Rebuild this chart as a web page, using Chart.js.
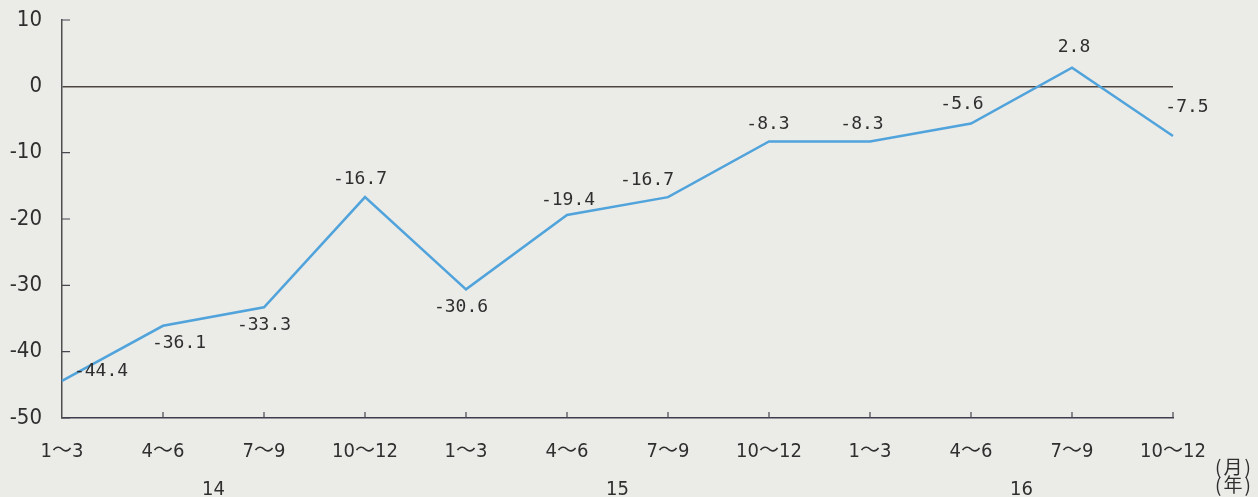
<html>
<head>
<meta charset="utf-8">
<style>
  body { margin: 0; background: #ebebe8; }
  canvas { display: block; }
</style>
</head>
<body>
<canvas id="myChart" width="1258" height="497"></canvas>

<script src="https://cdn.jsdelivr.net/npm/chart.js"></script>
<script>
// quarters per year, three years of data
var quarters = ["1～3", "4～6", "7～9", "10～12", "1～3", "4～6", "7～9", "10～12", "1～3", "4～6", "7～9", "10～12"];
var years = ["14", "15", "16"];
var values = [-44.4, -36.1, -33.3, -16.7, -30.6, -19.4, -16.7, -8.3, -8.3, -5.6, 2.8, -7.5];
var yTicks = [10, 0, -10, -20, -30, -40, -50];

var tickFont = "'Liberation Sans Narrow', 'DejaVu Sans Condensed', 'Noto Sans CJK JP', sans-serif";
var textColor = "#2f2f2f";

// where each value label sits relative to its point (dx, dy)
var labelOffsets = [[39, -10], [16, 18], [0, 18], [-5, -18], [-5, 18], [1, -15],
                    [-21, -17], [-1, -17], [-8, -17], [-9, -19], [2, -20], [14, -29]];

var paperMarks = {
    id: "paperMarks",
    beforeDraw: function (chart) {
        var ctx = chart.ctx;
        ctx.save();
        ctx.fillStyle = "#ebebe8";
        ctx.fillRect(0, 0, chart.width, chart.height);
        ctx.restore();
    },
    afterDatasetsDraw: function (chart) {
        var ctx = chart.ctx;
        var xs = chart.scales.x, ys = chart.scales.y;
        var area = chart.chartArea;
        ctx.save();

        // small inward ticks on both axes
        ctx.strokeStyle = "#4a4650";
        ctx.lineWidth = 1.2;
        ctx.beginPath();
        yTicks.forEach(function (v) {
            if (v === 0) return;
            var py = ys.getPixelForValue(v);
            ctx.moveTo(area.left, py);
            ctx.lineTo(area.left + 8, py);
        });
        for (var i = 1; i < quarters.length; i++) {
            var px = xs.getPixelForValue(i);
            ctx.moveTo(px, area.bottom);
            ctx.lineTo(px, area.bottom - 6);
        }
        ctx.stroke();

        // value labels
        var meta = chart.getDatasetMeta(0);
        ctx.fillStyle = textColor;
        ctx.font = "18px 'DejaVu Sans Mono', 'Liberation Mono', monospace";
        ctx.textAlign = "center";
        ctx.textBaseline = "middle";
        meta.data.forEach(function (pt, i) {
            var off = labelOffsets[i];
            ctx.fillText(values[i].toFixed(1), pt.x + off[0], pt.y + off[1]);
        });

        // year under the middle of each group of quarters
        ctx.font = "20px " + tickFont;
        years.forEach(function (y, g) {
            var a = xs.getPixelForValue(g * 4 + 1);
            var b = xs.getPixelForValue(g * 4 + 2);
            ctx.fillText(y, (a + b) / 2, 490);
        });

        // unit notes at the right end of the axis
        ctx.textAlign = "left";
        ctx.letterSpacing = "2px";
        ctx.font = "19px 'Noto Sans CJK JP', sans-serif";
        ctx.fillText("(月)", 1215, 467);
        ctx.fillText("(年)", 1215, 485);
        ctx.restore();
    }
};

var ctx = document.getElementById("myChart").getContext("2d");
var myChart = new Chart(ctx, {
    type: "line",
    data: {
        labels: quarters,
        datasets: [{
            data: values,
            borderColor: "#51a3db",
            borderWidth: 2.5,
            pointRadius: 0,
            tension: 0,
            fill: false
        }]
    },
    options: {
        responsive: false,
        animation: false,
        layout: { padding: { top: 20, right: 85, left: 0, bottom: 0 } },
        plugins: {
            legend: { display: false },
            tooltip: { enabled: false }
        },
        scales: {
            x: {
                offset: false,
                grid: { display: false, drawTicks: false },
                border: { color: "#3f3c4c", width: 1.5 },
                ticks: {
                    color: textColor,
                    font: { family: tickFont, size: 20 },
                    padding: 22,
                    maxRotation: 0,
                    autoSkip: false
                },
                afterFit: function (scale) { scale.height = 79; }
            },
            y: {
                min: -50,
                max: 10,
                ticks: {
                    stepSize: 10,
                    color: textColor,
                    font: { family: tickFont, size: 22 },
                    padding: 20
                },
                grid: {
                    drawTicks: false,
                    lineWidth: 1.5,
                    color: function (c) {
                        return c.tick && c.tick.value === 0 ? "#4e463e" : "rgba(0,0,0,0)";
                    }
                },
                border: { color: "#4f4f4f", width: 1.5 },
                afterFit: function (scale) {
                    scale.width = 62;
                    scale.paddingTop = 0;
                    scale.paddingBottom = 0;
                }
            }
        }
    },
    plugins: [paperMarks]
});
</script>
</body>
</html>
